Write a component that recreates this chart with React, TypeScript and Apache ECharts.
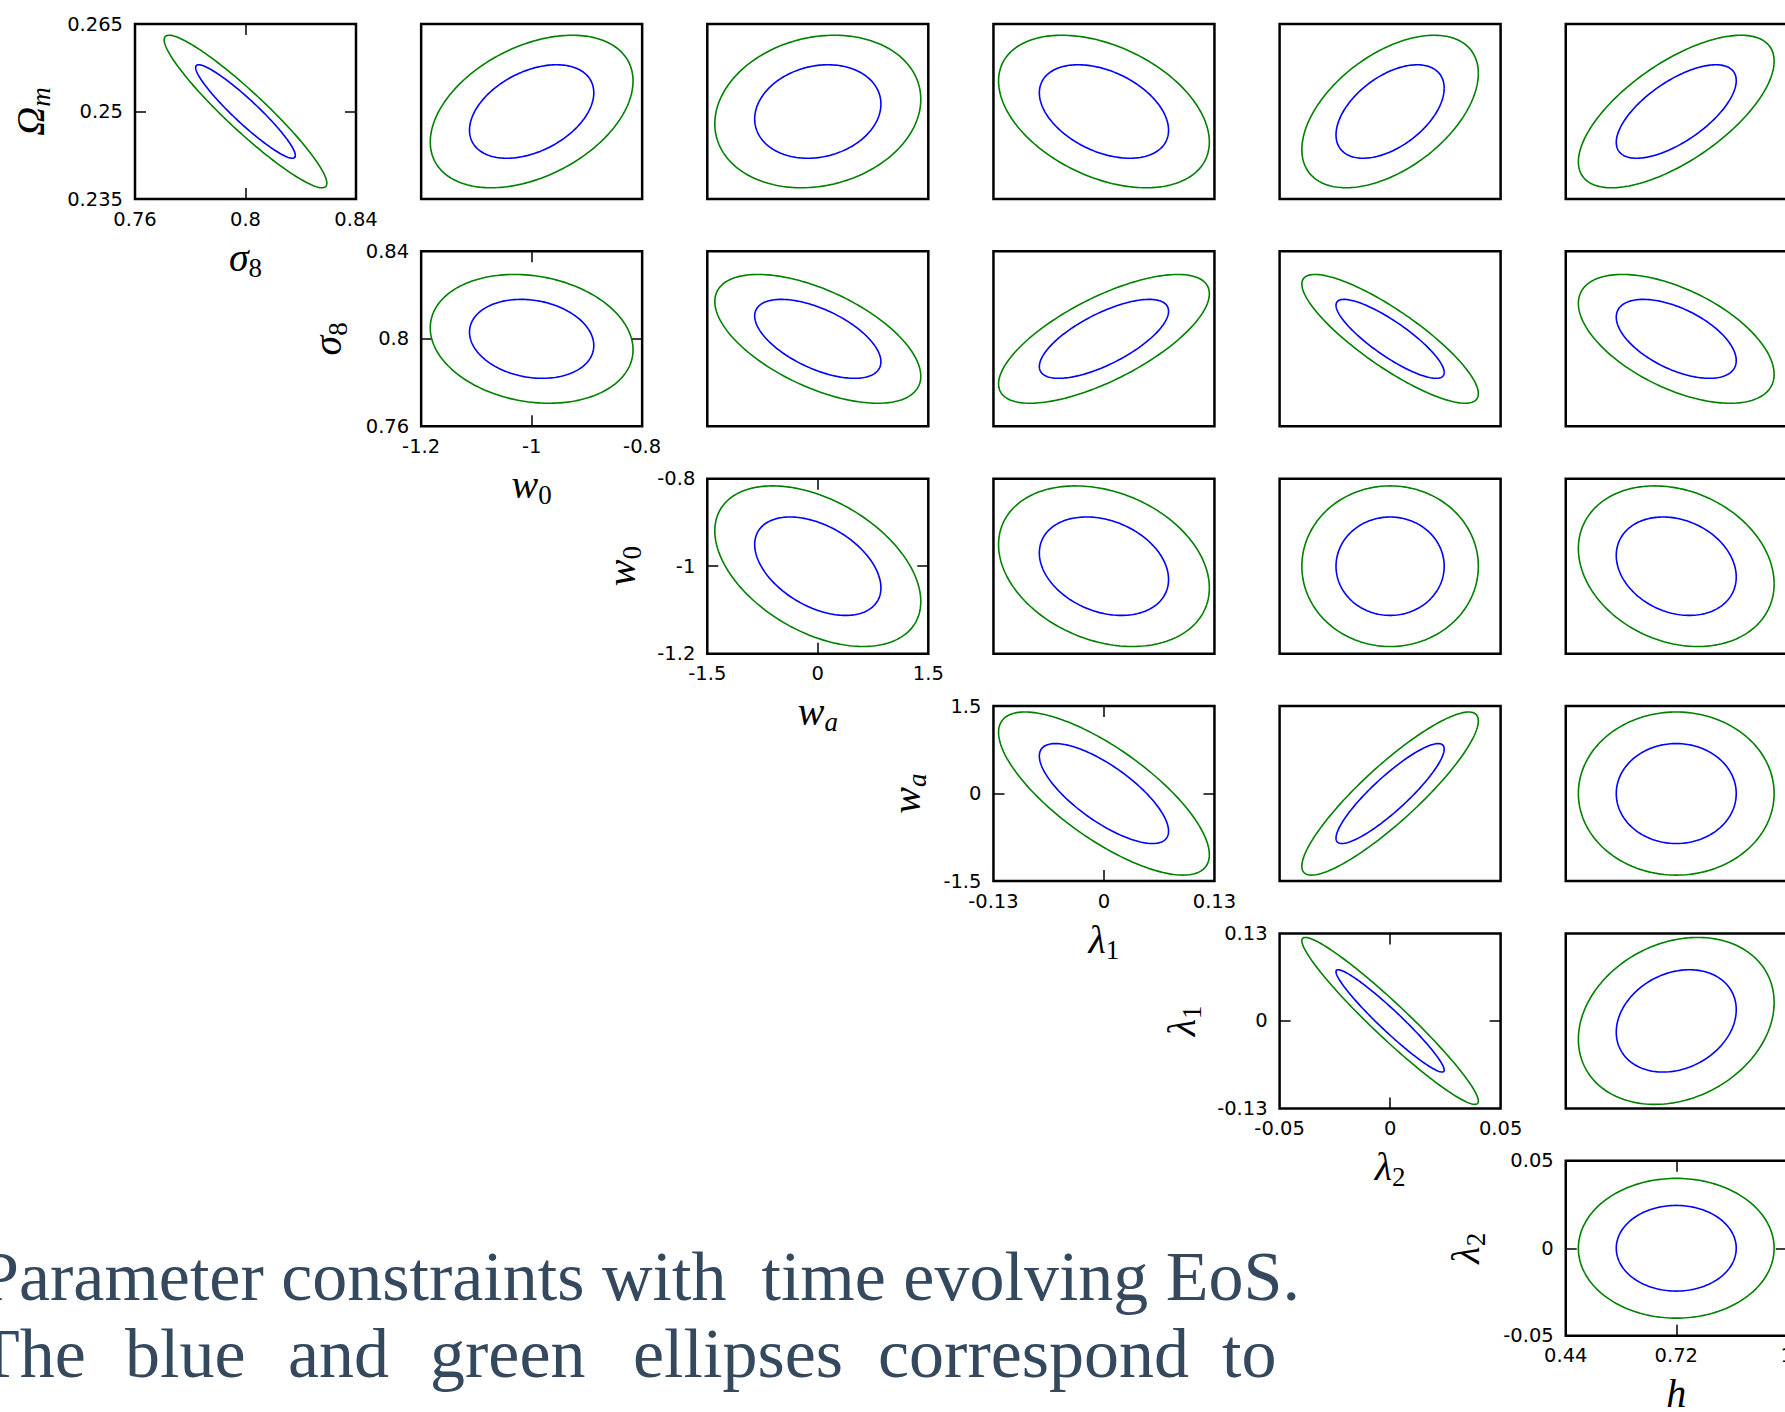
import React, { useEffect, useRef } from 'react';
import * as echarts from 'echarts';

// Parameters: Ωm, σ8, w0, wa, λ1, λ2, h
const PARAM_LABELS = ['{i|Ω}{si|m}', '{i|σ}{s|8}', '{i|w}{s|0}', '{i|w}{si|a}', '{i|λ}{s|1}', '{i|λ}{s|2}', '{i|h}'];
const FIDUCIAL = [0.25, 0.8, -1, 0, 0, 0, 0.72];
const SIGMA = [0.00527, 0.01187, 0.074, 0.5637, 0.05, 0.0161, 0.1];
const AXIS_MIN = [0.235, 0.76, -1.2, -1.5, -0.13, -0.05, 0.44];
const AXIS_MAX = [0.265, 0.84, -0.8, 1.5, 0.13, 0.05, 1.0];
const TICK_LABELS = [
  ['0.235', '0.25', '0.265'],
  ['0.76', '0.8', '0.84'],
  ['-1.2', '-1', '-0.8'],
  ['-1.5', '0', '1.5'],
  ['-0.13', '0', '0.13'],
  ['-0.05', '0', '0.05'],
  ['0.44', '0.72', '1'],
];
// 2D confidence contour scale factors (68% and 95%)
const CONTOUR_SCALE = [1.52, 2.48];
const CONTOUR_COLORS = ['#0000ff', '#008000'];

// correlation of row parameter with the x parameters to its right
const CORR_OMEGA_M = [-0.94, 0.4, 0.16, -0.4, 0.5, 0.66]; // vs σ8, w0, wa, λ1, λ2, h
const CORR_SIGMA_8 = [-0.17, -0.58, 0.7, -0.85, -0.55]; // vs w0, wa, λ1, λ2, h
const CORR_W_0 = [-0.44, -0.27, 0.0, -0.22]; // vs wa, λ1, λ2, h
const CORR_W_A = [-0.75, 0.89, 0.0]; // vs λ1, λ2, h
const CORR_LAMBDA_1 = [-0.96, 0.22]; // vs λ2, h
const CORR_LAMBDA_2 = [0.0]; // vs h
const CORR_ROWS = [CORR_OMEGA_M, CORR_SIGMA_8, CORR_W_0, CORR_W_A, CORR_LAMBDA_1, CORR_LAMBDA_2];

const CAPTION_LINE_1 = 'Parameter constraints with  time evolving EoS.';
const CAPTION_LINE_2 = ['The', 'blue', 'and', 'green', 'ellipses', 'correspond', 'to'];
const CAPTION_LINE_2_X = [-23, 125, 288, 430, 633, 878, 1222];
const CAPTION_COLOR = '#34495e';

// layout
const GRID_LEFT0 = 135;
const GRID_TOP0 = 24;
const GRID_DX = 286.15;
const GRID_DY = 227.35;
const GRID_W = 221;
const GRID_H = 175;
const Y_NAME_GAP = [81, 70, 62, 63, 74, 76];
const X_NAME_GAP = 34;

const TICK_FONT = 'DejaVu Sans';
const MATH_FONT = 'Liberation Serif';

const nameStyle = {
  color: '#000',
  fontFamily: MATH_FONT,
  fontSize: 40,
  lineHeight: 48,
  rich: {
    i: { fontFamily: MATH_FONT, fontStyle: 'italic', fontSize: 40, lineHeight: 48, color: '#000' },
    s: { fontFamily: MATH_FONT, fontSize: 27, lineHeight: 28, verticalAlign: 'bottom', color: '#000' },
    si: { fontFamily: MATH_FONT, fontStyle: 'italic', fontSize: 27, lineHeight: 28, verticalAlign: 'bottom', color: '#000' },
  },
};

function labelFor(p: number, v: number) {
  const labs = TICK_LABELS[p];
  let best = labs[0];
  let bd = Infinity;
  for (const l of labs) {
    const d = Math.abs(Number(l) - v);
    if (d < bd) { bd = d; best = l; }
  }
  return best;
}

function makeAxis(p: number, gridIndex: number, position: string, diag: boolean, withLabels: boolean, isY: boolean, row: number) {
  const vals = TICK_LABELS[p].map(Number);
  const ax: any = {
    type: 'value',
    gridIndex,
    position,
    min: AXIS_MIN[p],
    max: AXIS_MAX[p],
    show: diag,
    axisLine: { show: false, onZero: false },
    splitLine: { show: false },
    axisTick: {
      show: true,
      inside: true,
      length: 11,
      customValues: [vals[1]],
      lineStyle: { color: '#000', width: 1.5 },
    },
    axisLabel: {
      show: withLabels,
      customValues: vals,
      formatter: (v: number) => labelFor(p, v),
      fontFamily: TICK_FONT,
      fontSize: 19.5,
      color: '#000',
      margin: isY ? 12 : 10,
      showMinLabel: true,
      showMaxLabel: true,
    },
  };
  if (withLabels) {
    ax.name = PARAM_LABELS[p];
    ax.nameLocation = 'middle';
    ax.nameGap = isY ? Y_NAME_GAP[row] : X_NAME_GAP;
    ax.nameTextStyle = nameStyle;
    ax.nameMoveOverlap = false;
    if (isY) ax.nameRotate = 90;
  }
  return ax;
}

function renderEllipse(params: any, api: any) {
  const cx = api.value(0);
  const cy = api.value(1);
  const sx = api.value(2);
  const sy = api.value(3);
  const rho = api.value(4);
  const k = api.value(5);
  const lvl = api.value(6);
  const s = Math.sqrt(Math.max(0, 1 - rho * rho));
  const pts: number[][] = [];
  const N = 200;
  for (let j = 0; j <= N; j++) {
    const t = (2 * Math.PI * j) / N;
    const x = cx + k * sx * Math.cos(t);
    const y = cy + k * sy * (rho * Math.cos(t) + s * Math.sin(t));
    pts.push(api.coord([x, y]));
  }
  return {
    type: 'polyline',
    shape: { points: pts },
    style: { stroke: CONTOUR_COLORS[lvl], lineWidth: 1.6, fill: null },
  };
}

function buildOption() {
  const grid: any[] = [];
  const xAxis: any[] = [];
  const yAxis: any[] = [];
  const series: any[] = [];
  let gi = 0;
  for (let r = 0; r < 6; r++) {
    for (let c = r; c < 6; c++) {
      const xp = c + 1;
      const yp = r;
      const diag = c === r;
      grid.push({
        left: GRID_LEFT0 + c * GRID_DX,
        top: GRID_TOP0 + r * GRID_DY,
        width: GRID_W,
        height: GRID_H,
        show: true,
        borderColor: '#000',
        borderWidth: 2.5,
        backgroundColor: 'transparent',
        outerBoundsMode: 'none',
      });
      const xi = xAxis.length;
      xAxis.push(makeAxis(xp, gi, 'bottom', diag, true, false, r));
      xAxis.push(makeAxis(xp, gi, 'top', diag, false, false, r));
      const yi = yAxis.length;
      yAxis.push(makeAxis(yp, gi, 'left', diag, true, true, r));
      yAxis.push(makeAxis(yp, gi, 'right', diag, false, true, r));
      const rho = CORR_ROWS[r][c - r];
      series.push({
        type: 'custom',
        xAxisIndex: xi,
        yAxisIndex: yi,
        renderItem: renderEllipse,
        silent: true,
        data: CONTOUR_SCALE.map((k, lvl) => [FIDUCIAL[xp], FIDUCIAL[yp], SIGMA[xp], SIGMA[yp], rho, k, lvl]),
      });
      gi++;
    }
  }

  const graphic: any[] = [
    {
      type: 'text',
      x: -20,
      y: 1276,
      style: {
        text: CAPTION_LINE_1,
        font: `70px "${MATH_FONT}"`,
        fill: CAPTION_COLOR,
        verticalAlign: 'middle',
        align: 'left',
      },
    },
  ];
  CAPTION_LINE_2.forEach((w, i) => {
    graphic.push({
      type: 'text',
      x: CAPTION_LINE_2_X[i],
      y: 1353,
      style: {
        text: w,
        font: `70px "${MATH_FONT}"`,
        fill: CAPTION_COLOR,
        verticalAlign: 'middle',
        align: 'left',
      },
    });
  });

  return {
    animation: false,
    backgroundColor: '#fff',
    grid,
    xAxis,
    yAxis,
    series,
    graphic,
  };
}

export default function App() {
  const ref = useRef<HTMLDivElement>(null);
  useEffect(() => {
    if (!ref.current) return;
    const chart = echarts.init(ref.current, undefined, { renderer: 'svg' });
    chart.setOption(buildOption() as any);
    return () => chart.dispose();
  }, []);
  return (
    <div
      ref={ref}
      style={{ position: 'fixed', left: 0, top: 0, width: 1785, height: 1412, background: '#fff' }}
    />
  );
}
